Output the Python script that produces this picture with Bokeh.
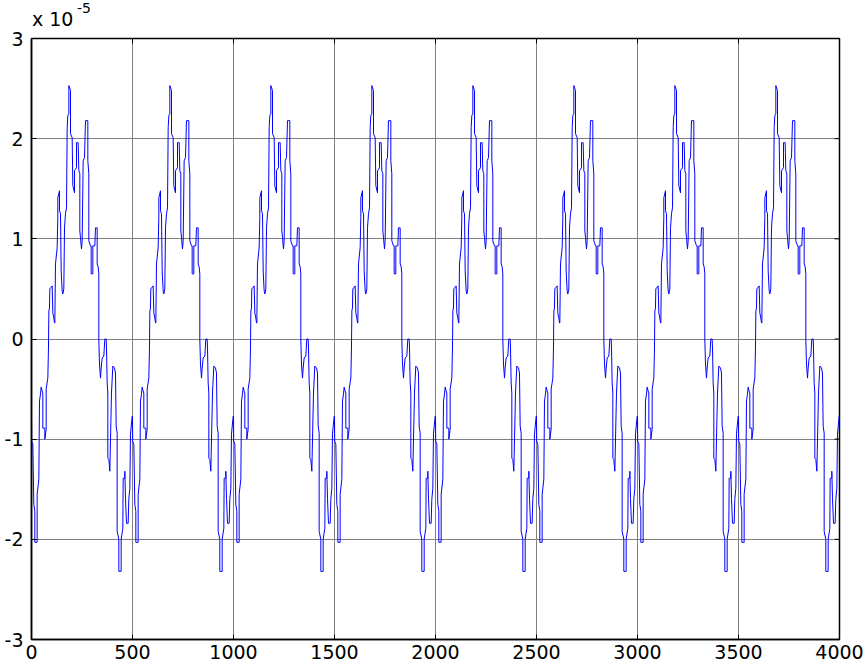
import math
from bokeh.plotting import figure
from bokeh.models import Range1d, FixedTicker, Div
from bokeh.layouts import column
from bokeh.embed import file_html
from bokeh.resources import INLINE

# One period (500 samples) of the signal, y in units of 1e-5
period_len = 500
n_periods = 8
period_x = [0, 1, 6.6, 11.5, 16.5, 16.5, 28, 28, 36.3, 39.6, 44.5, 47.9, 52.8, 56.1, 56.1, 66,
            66, 72.6, 72.6, 80.9, 84, 86, 89, 90.7, 102.3, 105.6, 110.5, 113.9, 115.5, 118.8,
            127, 130.3, 130.3, 138.6, 138.6, 143.6, 146.9, 151.8, 155.1, 160, 163.4, 168.3,
            173.3, 176.6, 179.9, 184.8, 184.8, 193.1, 193.1, 201.3, 204.6, 212.9, 212.9,
            222.8, 222.8, 231, 234.3, 239.3, 239.3, 242.6, 247.5, 250.8, 255.8, 262.4, 267.3,
            278.9, 278.9, 283.8, 283.8, 292.1, 295.4, 295.4, 303.6, 303.6, 313.5, 316.8,
            325.1, 325.1, 330, 333.3, 333.3, 336.6, 341.6, 344.9, 349.8, 358.1, 363, 369.6,
            371.3, 374.6, 377.9, 377.9, 382.8, 387.8, 396, 402.6, 410.9, 415.8, 419.1, 424.1,
            424.1, 432.3, 432.3, 443.9, 443.9, 452.1, 453.8, 462, 462, 465.3, 470.3, 478.5,
            481.8, 486.8, 490, 498.4]
period_y = [-0.77, -1.02, -1.05, -1.65, -1.72, -2.03, -2.03, -1.55, -1.40, -0.62, -0.55, -0.48,
            -0.52, -0.54, -0.89, -0.89, -1.0, -0.9, -0.5, -0.39, -0.1, 0.28, 0.31, 0.5, 0.53,
            0.26, 0.21, 0.16, 0.16, 0.75, 0.91, 1.21, 1.41, 1.48, 1.28, 1.25, 0.68, 0.48,
            0.45, 0.5, 1.11, 1.25, 1.31, 2.11, 2.23, 2.25, 2.53, 2.48, 2.05, 2.01, 1.53, 1.46,
            1.68, 1.71, 1.96, 1.96, 1.68, 1.65, 1.08, 1.01, 0.90, 0.98, 1.78, 1.81, 2.18,
            2.18, 1.78, 1.65, 0.98, 0.93, 0.93, 0.65, 0.65, 0.93, 0.93, 1.11, 1.11, 0.75,
            0.72, 0.65, 0.0, -0.25, -0.39, -0.29, -0.19, -0.17, 0.0, 0.0, -0.09, -0.44,
            -0.54, -1.19, -1.2, -1.32, -0.54, -0.27, -0.29, -0.34, -0.87, -0.94, -1.92, -2.0,
            -2.32, -2.32, -2.0, -1.89, -1.39, -1.39, -1.32, -1.59, -1.84, -1.84, -1.6, -1.49,
            -0.95, -0.77]

x_ticks = [0, 500, 1000, 1500, 2000, 2500, 3000, 3500, 4000]
y_ticks = [-3, -2, -1, 0, 1, 2, 3]
x_min, x_max = 0, 4000
y_min, y_max = -3, 3
exponent_label = "x 10"
exponent_power = "-5"

xs = []
ys = []
for k in range(n_periods):
    for xv, yv in zip(period_x, period_y):
        xs.append(xv + k * period_len)
        ys.append(yv)
xs.append(period_x[0] + n_periods * period_len)
ys.append(period_y[0])

FONT = "DejaVu Sans"

p = figure(frame_width=808, frame_height=601, output_backend="svg", toolbar_location=None,
           x_range=Range1d(x_min, x_max), y_range=Range1d(y_min, y_max))
p.min_border_left = 31
p.min_border_right = 27
p.min_border_top = 11
p.min_border_bottom = 0
p.background_fill_color = "white"
p.border_fill_color = "white"
p.outline_line_color = "black"
p.outline_line_width = 1.5

p.line(xs, ys, line_color="#0000ff", line_width=1)

for ax in (p.xaxis[0], p.yaxis[0]):
    ax.axis_line_color = "black"
    ax.axis_line_width = 1.5
    ax.major_tick_in = 5
    ax.major_tick_out = 0
    ax.minor_tick_in = 0
    ax.minor_tick_out = 0
    ax.major_tick_line_color = "black"
    ax.major_label_text_font = FONT
    ax.major_label_text_font_size = "19px"
    ax.major_label_text_color = "black"
p.xaxis[0].ticker = FixedTicker(ticks=x_ticks)
p.yaxis[0].ticker = FixedTicker(ticks=y_ticks)
p.xaxis[0].major_label_standoff = 5
p.yaxis[0].major_label_standoff = 8
p.yaxis[0].major_label_overrides = {t: str(t) for t in y_ticks}
p.xaxis[0].major_label_overrides = {t: str(t) for t in x_ticks}

# inward ticks on the top and right edges of the box (outer half clipped by the frame)
p.scatter(x=x_ticks, y=[y_max] * len(x_ticks), marker="dash", angle=math.pi / 2, size=10,
          line_color="black", line_width=1)
p.scatter(x=[x_max] * len(y_ticks), y=y_ticks, marker="dash", size=10,
          line_color="black", line_width=1)

p.xgrid.ticker = FixedTicker(ticks=x_ticks)
p.ygrid.ticker = FixedTicker(ticks=y_ticks)
for g in (p.xgrid[0], p.ygrid[0]):
    g.grid_line_color = "#808080"
    g.grid_line_width = 1

header = Div(
    text=(f'<div style="position:relative; width:200px; height:27px; '
          f'font-family:\'{FONT}\'; color:black; white-space:nowrap;">'
          f'<span style="position:absolute; left:32px; top:10px; font-size:19px; '
          f'line-height:19px;">{exponent_label}</span>'
          f'<span style="position:absolute; left:77px; top:1px; font-size:14px; '
          f'line-height:14px;">{exponent_power}</span></div>'),
    width=866, height=27, margin=0)

layout = column(header, p, spacing=0)

open("out.html", "w").write(file_html(layout, INLINE))
